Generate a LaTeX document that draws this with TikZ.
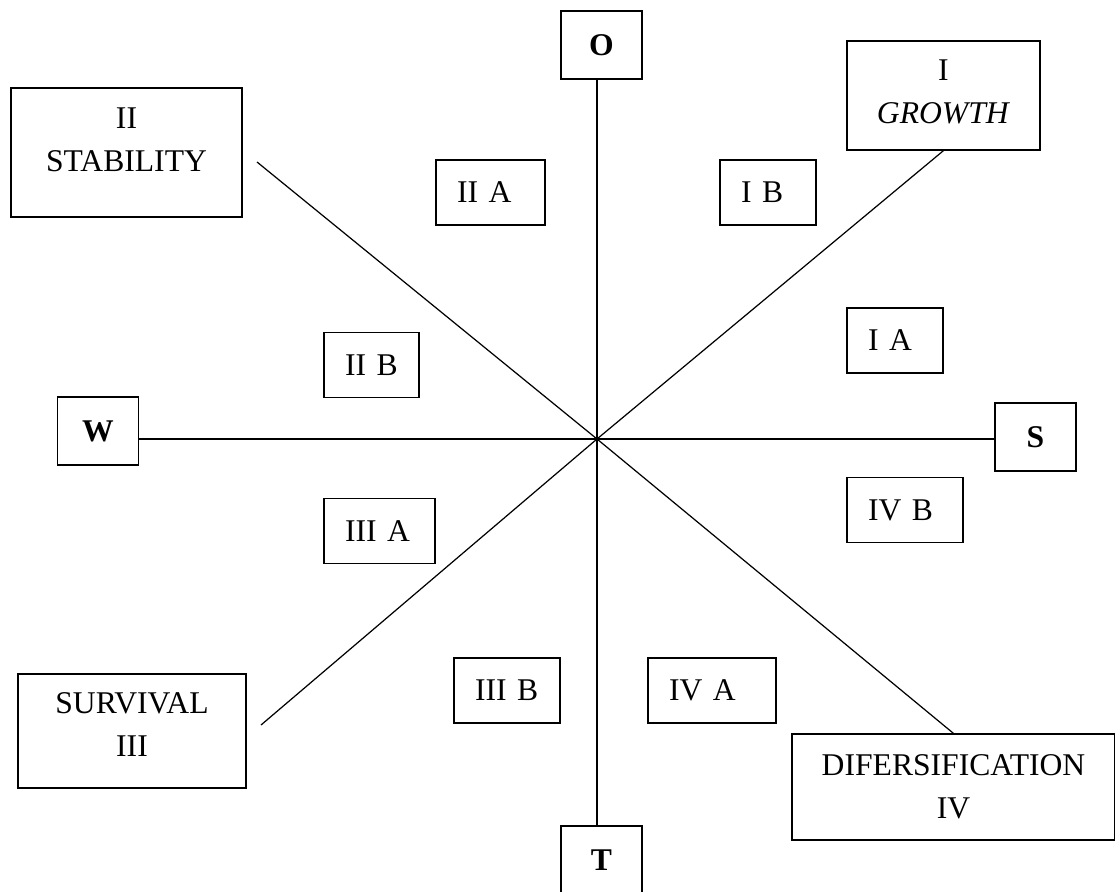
\documentclass[tikz,border=0pt]{standalone}
\usepackage{fontspec}
\setmainfont{Liberation Serif}
\newcommand{\lift}[1]{\rule[-#1]{0pt}{#1}}

\begin{document}
\begin{tikzpicture}[x=0.02cm, y=-0.02cm,
  every node/.style={font=\fontsize{18}{24.4}\selectfont},
  pole/.style={rectangle, draw, line width=0.7pt, minimum width=1.62cm, minimum height=1.36cm, font=\fontsize{18}{24.4}\selectfont\bfseries},
  strat/.style={rectangle, draw, line width=0.7pt, align=center},
  cell/.style={rectangle, draw, line width=0.7pt, minimum height=1.3cm, inner xsep=0.42cm, text width=#1, align=left},
  axis/.style={line width=0.7pt}
]
\useasboundingbox (0,0) rectangle (1115,892);
\coordinate (ctr) at (597,439);
\node[pole] (o) at (601.5,45) {O};
\node[pole] (t) at (601.5,860) {T};
\node[pole] (w) at (98,431) {W};
\node[pole] (s) at (1035.5,437) {S};
\node[strat, minimum width=4.62cm, minimum height=2.58cm] (stab) at (126.5,152.5) {II\\STABILITY\lift{0.52cm}};
\node[strat, minimum width=3.86cm, minimum height=2.18cm] (grow) at (943.5,95.5) {I\\\textit{GROWTH}\lift{0.14cm}};
\node[strat, minimum width=4.56cm, minimum height=2.28cm] (surv) at (132,731) {SURVIVAL\\III\lift{0.26cm}};
\node[strat, minimum width=6.46cm, minimum height=2.12cm] (dif) at (953.5,787) {DIFERSIFICATION\\IV};
\node[cell=1.34cm] (iia) at (490.5,192.5) {II A};
\node[cell=1.08cm] (ib) at (768,192.5) {I B};
\node[cell=1.08cm] (ia) at (895,340.5) {I A};
\node[cell=1.06cm] (iib) at (371.5,365) {II B};
\node[cell=1.38cm] (iiia) at (379.5,531) {III A};
\node[cell=1.28cm] (iiib) at (507,690.5) {III B};
\node[cell=1.72cm] (iva) at (712,690.5) {IV A};
\node[cell=1.48cm] (ivb) at (905,510) {IV B};
\coordinate (stab-end) at (257,162);
\coordinate (surv-end) at (261,725);
\draw[axis] (o.south -| ctr) -- (t.north -| ctr);
\draw[axis] (w.east |- ctr) -- (s.west |- ctr);
\draw[axis] (stab-end) -- (ctr) -- (dif.north);
\draw[axis] (grow.south) -- (ctr) -- (surv-end);
\end{tikzpicture}
\end{document}
